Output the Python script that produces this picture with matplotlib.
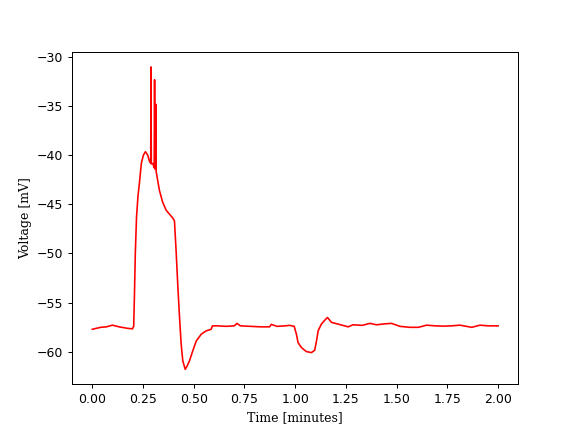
import matplotlib
matplotlib.use("Agg")
import matplotlib.pyplot as plt

time_min = [0.000, 0.041, 0.070, 0.099, 0.132, 0.173, 0.198, 0.204, 0.208, 0.212,
            0.218, 0.225, 0.232, 0.242, 0.252, 0.262, 0.273, 0.283, 0.288, 0.289,
            0.291, 0.298, 0.305, 0.307, 0.309, 0.311, 0.313, 0.315, 0.320, 0.331,
            0.347, 0.364, 0.380, 0.397, 0.405, 0.413, 0.421, 0.430, 0.438, 0.446,
            0.458, 0.468, 0.479, 0.495, 0.512, 0.537, 0.561, 0.586, 0.592, 0.619,
            0.660, 0.700, 0.713, 0.730, 0.780, 0.830, 0.874, 0.882, 0.910, 0.950,
            0.973, 0.995, 1.006, 1.014, 1.031, 1.055, 1.080, 1.096, 1.105, 1.113,
            1.129, 1.146, 1.159, 1.179, 1.211, 1.261, 1.285, 1.330, 1.368, 1.401,
            1.440, 1.475, 1.516, 1.565, 1.607, 1.648, 1.690, 1.730, 1.770, 1.812,
            1.870, 1.911, 1.950, 2.000]
voltage_mv = [-57.70, -57.50, -57.45, -57.28, -57.45, -57.60, -57.65, -57.40, -54.00, -50.00,
              -46.30, -44.20, -42.90, -40.80, -40.00, -39.66, -40.00, -40.70, -40.80, -31.05,
              -40.90, -40.85, -41.30, -32.35, -41.40, -41.45, -34.85, -41.70, -42.30, -43.60,
              -44.80, -45.60, -46.00, -46.40, -46.70, -49.70, -53.10, -56.50, -59.20, -60.90,
              -61.77, -61.40, -60.90, -59.90, -58.90, -58.20, -57.86, -57.70, -57.35, -57.35,
              -57.40, -57.35, -57.10, -57.35, -57.40, -57.45, -57.45, -57.20, -57.40, -57.35,
              -57.30, -57.40, -58.20, -59.05, -59.56, -59.96, -60.07, -59.83, -58.90, -57.86,
              -57.17, -56.77, -56.50, -57.00, -57.17, -57.45, -57.24, -57.30, -57.10, -57.24,
              -57.15, -57.10, -57.40, -57.50, -57.50, -57.28, -57.35, -57.38, -57.35, -57.28,
              -57.50, -57.28, -57.35, -57.35]

fig, ax = plt.subplots(figsize=(6.4, 4.8), dpi=90)
ax.plot(time_min, voltage_mv, color="red", linewidth=1.3)
ax.set_xlabel("Time [minutes]", family="DejaVu Serif")
ax.set_ylabel("Voltage [mV]", family="DejaVu Serif")
fig.savefig("out.png", dpi=90)
